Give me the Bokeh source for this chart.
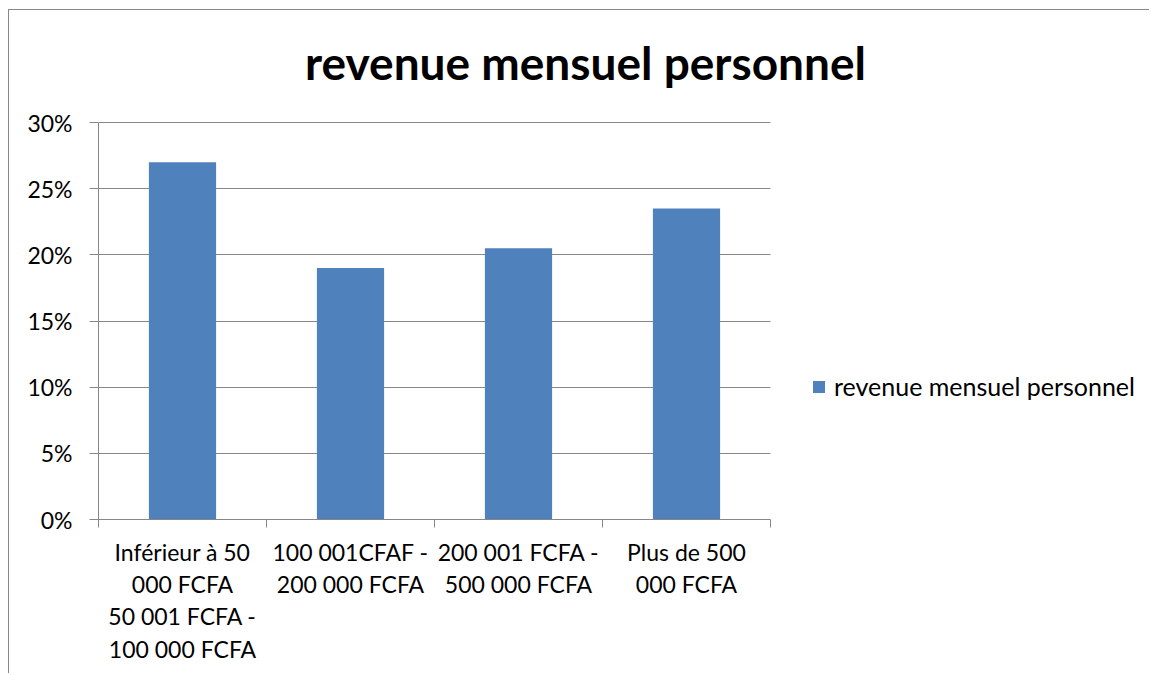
from bokeh.plotting import figure
from bokeh.models import Range1d, FixedTicker, NumeralTickFormatter, Legend, LegendItem, Label
from bokeh.embed import file_html
from bokeh.resources import INLINE

title_text = "revenue mensuel personnel"
series_name = "revenue mensuel personnel"
tick_labels = [
    "Inférieur à 50\n000 FCFA\n50 001 FCFA -\n100 000 FCFA",
    "100 001CFAF -\n200 000 FCFA",
    "200 001 FCFA -\n500 000 FCFA",
    "Plus de 500\n000 FCFA",
]
values = [0.27, 0.19, 0.205, 0.235]
y_ticks = [0, 0.05, 0.10, 0.15, 0.20, 0.25, 0.30]
y_max = 0.30

n = len(values)
xs = [i + 0.5 for i in range(n)]
bounds = [i for i in range(n + 1)]

GRAY = "#878787"
FONT = "Lato"

# layout geometry (pixels)
W, H = 1141, 664
LEFT, BOTTOM = 89, 155
PLOT_W, PLOT_H = 672, 397          # width / height of the bar area
FRAME_W, FRAME_H = W - LEFT, H - BOTTOM

p = figure(width=W, height=H, output_backend="svg", toolbar_location=None,
           x_range=Range1d(0, n * FRAME_W / PLOT_W),
           y_range=Range1d(0, y_max * FRAME_H / PLOT_H),
           min_border_left=LEFT, min_border_right=0, min_border_top=0,
           min_border_bottom=BOTTOM)
p.margin = (9, 0, 0, 8)
p.styles = {"border-left": f"1px solid {GRAY}", "border-top": f"1px solid {GRAY}"}
p.outline_line_color = None
p.background_fill_color = "white"
p.border_fill_color = "white"

r = p.vbar(x=xs, top=values, width=0.4, fill_color="#4F81BD", line_color=None)

# Title
px_per_unit_x = PLOT_W / n
title = Label(x=(585 - 98) / px_per_unit_x, y=y_max * 457 / PLOT_H, text=title_text,
              text_align="center", text_baseline="alphabetic",
              text_font=FONT, text_font_style="bold", text_font_size="46px",
              text_color="black")
p.add_layout(title)

# Grid
p.xgrid.grid_line_color = None
p.ygrid.grid_line_color = GRAY
p.ygrid.grid_line_width = 1
p.ygrid.ticker = FixedTicker(ticks=y_ticks)
p.ygrid.cross_bounds = (0, n)

# Y axis
p.yaxis.ticker = FixedTicker(ticks=y_ticks)
p.yaxis.bounds = (0, y_max)
p.yaxis.formatter = NumeralTickFormatter(format="0%")
p.yaxis.axis_line_color = GRAY
p.yaxis.major_tick_line_color = GRAY
p.yaxis.major_tick_out = 9
p.yaxis.major_tick_in = 0
p.yaxis.minor_tick_line_color = None
p.yaxis.major_label_standoff = 17
p.yaxis.major_label_text_font = FONT
p.yaxis.major_label_text_font_size = "23px"
p.yaxis.major_label_text_color = "black"

# X axis
p.xaxis.ticker = FixedTicker(ticks=xs, minor_ticks=bounds)
p.xaxis.bounds = (0, n)
p.xaxis.major_label_overrides = {x: lab for x, lab in zip(xs, tick_labels)}
p.xaxis.axis_line_color = GRAY
p.xaxis.major_tick_line_color = None
p.xaxis.major_tick_out = 0
p.xaxis.major_tick_in = 0
p.xaxis.minor_tick_line_color = GRAY
p.xaxis.minor_tick_out = 8
p.xaxis.minor_tick_in = 0
p.xaxis.major_label_standoff = 10
p.xaxis.major_label_text_font = FONT
p.xaxis.major_label_text_font_size = "23px"
p.xaxis.major_label_text_line_height = 1.16
p.xaxis.major_label_text_color = "black"

legend = Legend(items=[LegendItem(label=series_name, renderers=[r])],
                location=(713, 118), padding=0, margin=0,
                border_line_color=None, background_fill_alpha=0,
                glyph_width=15, glyph_height=15, label_standoff=8, spacing=0,
                label_text_font=FONT, label_text_font_size="25px",
                label_text_color="black")
p.add_layout(legend, "center")

open("out.html", "w").write(file_html(p, INLINE))
